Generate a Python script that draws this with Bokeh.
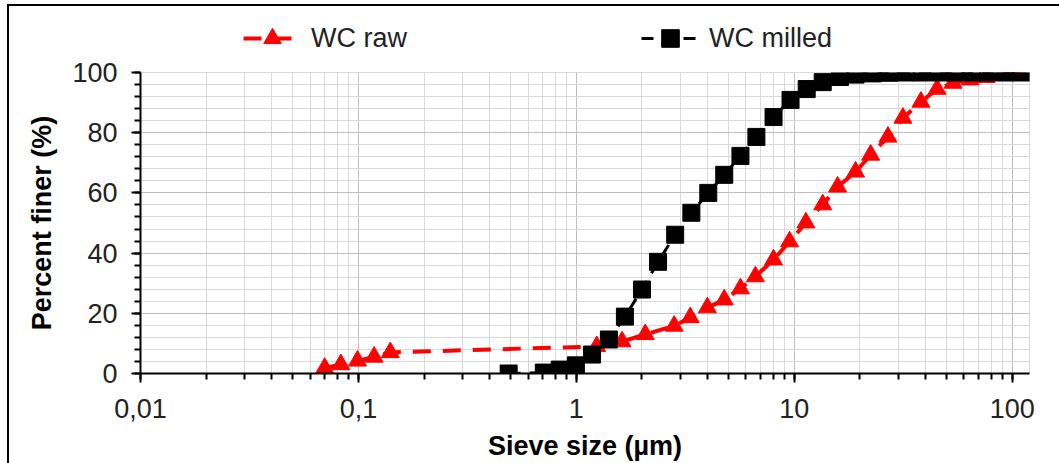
from bokeh.plotting import figure
from bokeh.layouts import column
from bokeh.models import (Range1d, LogTicker, SingleIntervalTicker, Legend, LegendItem)
from bokeh.embed import file_html
from bokeh.resources import INLINE

# WC raw (red, triangles)
raw_size = [0.070, 0.083, 0.099, 0.118, 0.140, 1.24, 1.62, 2.07, 2.81, 3.33, 3.99,
            4.77, 5.66, 6.63, 8.03, 9.51, 11.3, 13.5, 15.8, 19.1, 22.4, 26.9, 31.5,
            38.1, 45.2, 53.5, 64.1, 75.9, 90.9, 108]
raw_finer = [1.8, 3.0, 4.2, 5.5, 7.0, 9.0, 10.6, 13.0, 15.8, 18.6, 21.9,
             24.5, 28.2, 32.2, 37.8, 43.8, 50.1, 56.1, 62.0, 67.0, 72.6, 78.6, 84.9,
             90.2, 94.5, 96.5, 97.6, 98.4, 99.2, 100]

# WC milled (black, squares)
milled_size = [0.489, 0.709, 0.839, 0.995, 1.18, 1.41, 1.67, 2.00, 2.37, 2.84, 3.37,
               4.03, 4.77, 5.66, 6.70, 8.03, 9.61, 11.4, 13.5, 16.2, 19.1, 22.9,
               27.2, 32.5, 38.5, 46.1, 54.7, 65.4, 77.5, 92.9, 110]
milled_finer = [0.0, 0.3, 1.3, 2.7, 6.3, 11.3, 18.9, 27.9, 37.1, 46.1, 53.4,
                60.0, 66.0, 72.3, 78.6, 85.2, 90.9, 94.5, 96.8, 98.5, 99.3, 99.7,
                99.9, 100, 100, 100, 100, 100, 100, 100, 100]

x_tick_values = [0.01, 0.1, 1, 10, 100]
x_tick_labels = ["0,01", "0,1", "1", "10", "100"]
series_names = ["WC raw", "WC milled"]
x_title = "Sieve size (µm)"
y_title = "Percent finer (%)"

FONT = "Liberation Sans"
RAW_STYLE = dict(color="#ff0000", line_width=4, line_dash="18 12", marker="triangle", size=18)
MILLED_STYLE = dict(color="black", line_width=3, line_dash="12 9", marker="square", size=17)

p = figure(width=1050, height=407, x_axis_type="log",
           x_range=Range1d(0.01, 120), y_range=Range1d(0, 100),
           output_backend="svg", toolbar_location=None,
           min_border_left=131, min_border_right=30,
           min_border_top=16, min_border_bottom=89)
p.background_fill_color = "white"
p.border_fill_color = "white"
p.outline_line_color = "#d9d9d9"
p.outline_line_width = 1

# axes
xa = p.xaxis[0]
xa.ticker = LogTicker(num_minor_ticks=10)
xa.major_label_overrides = dict(zip(x_tick_values, x_tick_labels))
ya = p.yaxis[0]
ya.ticker = SingleIntervalTicker(interval=20, num_minor_ticks=5)

for ax in (xa, ya):
    ax.axis_line_color = "black"
    ax.axis_line_width = 2
    ax.major_tick_line_color = "black"
    ax.major_tick_line_width = 2
    ax.minor_tick_line_color = "black"
    ax.minor_tick_line_width = 2
    ax.major_tick_in = 0
    ax.major_tick_out = 9
    ax.minor_tick_in = 0
    ax.minor_tick_out = 6
    ax.major_label_text_font = FONT
    ax.major_label_text_font_size = "27px"
    ax.major_label_text_color = "#222222"
    ax.axis_label_text_font = FONT
    ax.axis_label_text_font_size = "27px"
    ax.axis_label_text_font_style = "bold"
    ax.axis_label_text_color = "black"

xa.axis_label = x_title
ya.axis_label = y_title
xa.major_label_standoff = 16
xa.axis_label_standoff = 10
ya.major_label_standoff = 14
ya.axis_label_standoff = 12

# grids
for g in (p.xgrid[0], p.ygrid[0]):
    g.grid_line_color = "#bfbfbf"
    g.grid_line_width = 1
    g.minor_grid_line_color = "#d9d9d9"
    g.minor_grid_line_width = 1
p.xgrid[0].ticker = xa.ticker
p.ygrid[0].ticker = ya.ticker


def draw(fig, xs, ys, st):
    ln = fig.line(xs, ys, line_color=st["color"], line_width=st["line_width"],
                  line_dash=st["line_dash"])
    pts = fig.scatter(xs, ys, marker=st["marker"], size=st["size"],
                      fill_color=st["color"], line_color=st["color"])
    return ln, pts


# series
draw(p, raw_size, raw_finer, RAW_STYLE)
draw(p, milled_size, milled_finer, MILLED_STYLE)

# legend strip above the chart (its own copies of the series lie outside its ranges)
lg = figure(width=1050, height=50, x_axis_type=None, y_axis_type=None,
            x_range=Range1d(-2, -1), y_range=Range1d(-2, -1),
            output_backend="svg", toolbar_location=None,
            min_border=0)
lg.outline_line_color = None
lg.background_fill_color = "white"
lg.border_fill_color = "white"
lr = draw(lg, raw_size, raw_finer, RAW_STYLE)
lm = draw(lg, milled_size, milled_finer, MILLED_STYLE)

legend = Legend(items=[LegendItem(label=series_names[0], renderers=list(lr)),
                       LegendItem(label=series_names[1], renderers=list(lm))],
                orientation="horizontal", location=(103, -4),
                glyph_width=58, glyph_height=44, label_height=26,
                label_standoff=10, spacing=234, padding=0, margin=0,
                border_line_color=None, background_fill_alpha=0,
                label_text_font=FONT, label_text_font_size="27px",
                label_text_color="#222222")
lg.add_layout(legend, "center")

layout = column(lg, p, spacing=0,
                styles={"border-left": "2px solid black", "border-top": "2px solid black",
                        "margin-left": "7px", "margin-top": "4px"})

open("out.html", "w").write(file_html(layout, INLINE))
